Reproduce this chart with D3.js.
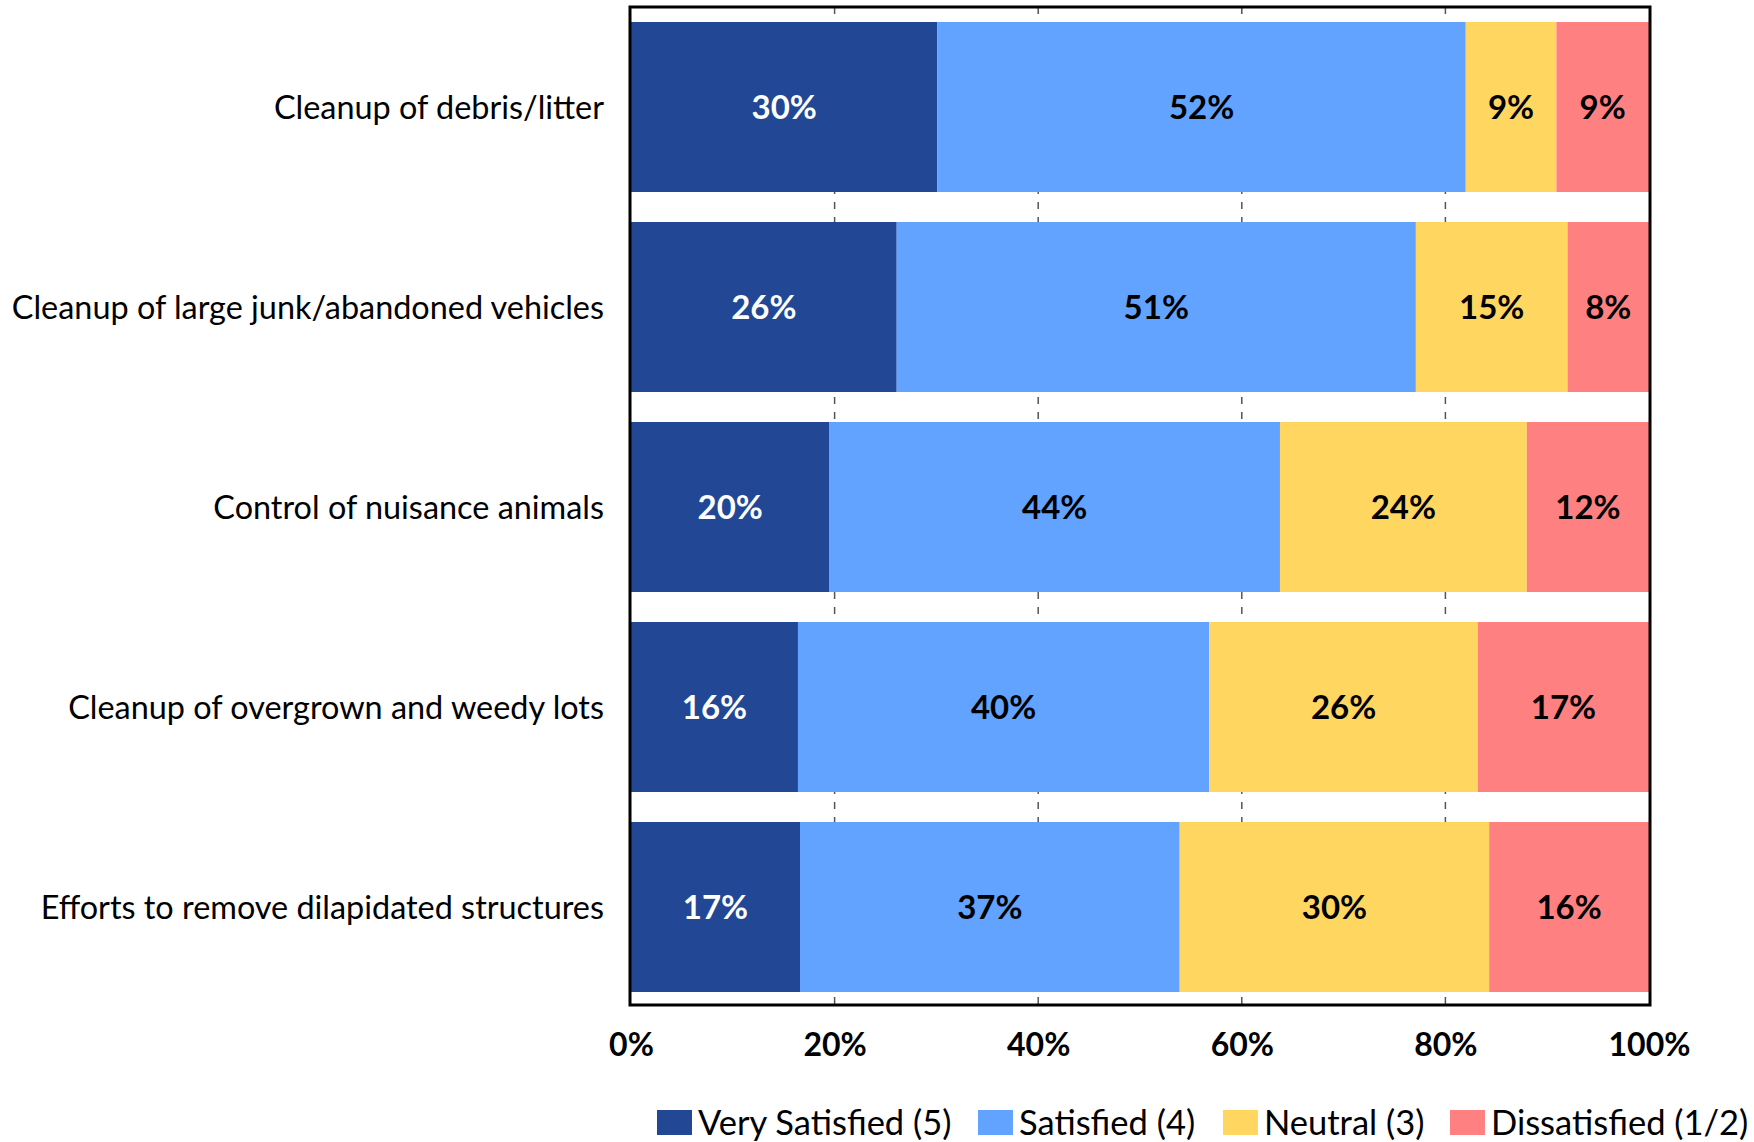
<!DOCTYPE html>
<html>
<head>
<meta charset="utf-8">
<script src="https://cdn.jsdelivr.net/npm/d3@7"></script>
<style>
  body { margin: 0; background: #fff; }
  text { font-family: Lato, "Open Sans", sans-serif; }
</style>
</head>
<body>
<div id="chart"></div>
<script>
// categories, top to bottom
var categories = [
  "Cleanup of debris/litter",
  "Cleanup of large junk/abandoned vehicles",
  "Control of nuisance animals",
  "Cleanup of overgrown and weedy lots",
  "Efforts to remove dilapidated structures"
];

// series values (percent)
var verySatisfied = [30.1, 26.1, 19.5, 16.4, 16.6];
var satisfied     = [51.9, 51.0, 44.25, 40.4, 37.3];
var neutral       = [8.9, 14.9, 24.25, 26.4, 30.4];
var dissatisfied  = [9.1, 8.0, 12.0, 16.8, 15.7];

// labels printed in the segments
var verySatisfiedLabels = ["30%", "26%", "20%", "16%", "17%"];
var satisfiedLabels     = ["52%", "51%", "44%", "40%", "37%"];
var neutralLabels       = ["9%", "15%", "24%", "26%", "30%"];
var dissatisfiedLabels  = ["9%", "8%", "12%", "17%", "16%"];

var seriesNames = ["Very Satisfied (5)", "Satisfied (4)", "Neutral (3)", "Dissatisfied (1/2)"];
var seriesColors = ["#214795", "#62A3FF", "#FFD760", "#FF8080"];
var labelColors = ["#fff", "#000", "#000", "#000"];

var xTicks = [0, 20, 40, 60, 80, 100];
var gridTicks = [20, 40, 60, 80];

var width = 1754, height = 1142;

var svg = d3.select("#chart").append("svg")
    .attr("width", width)
    .attr("height", height);

var x = d3.scaleLinear().domain([0, 100]).range([631, 1649]);
var y = d3.scaleBand().domain(categories).range([7, 1007])
    .paddingInner(0.15).paddingOuter(0.075);

// build rows for stacking
var series = [verySatisfied, satisfied, neutral, dissatisfied];
var labels = [verySatisfiedLabels, satisfiedLabels, neutralLabels, dissatisfiedLabels];
var rows = categories.map(function(c, i){
    var r = {cat: c};
    seriesNames.forEach(function(s, j){ r[s] = series[j][i]; });
    return r;
});
var stacked = d3.stack().keys(seriesNames)(rows);

// dashed gridlines (behind bars)
svg.append("g").selectAll("line")
    .data(gridTicks)
    .enter().append("line")
    .attr("x1", function(d){ return x(d); })
    .attr("x2", function(d){ return x(d); })
    .attr("y1", y.range()[0])
    .attr("y2", y.range()[1] - 2)
    .attr("stroke", "#555")
    .attr("stroke-width", 1.5)
    .attr("stroke-dasharray", "7,8");

// bars
var layers = svg.append("g").selectAll("g")
    .data(stacked)
    .enter().append("g")
    .attr("fill", function(d, i){ return seriesColors[i]; });

layers.selectAll("rect")
    .data(function(d){ return d; })
    .enter().append("rect")
    .attr("x", function(d){ return x(d[0]); })
    .attr("y", function(d){ return y(d.data.cat); })
    .attr("width", function(d){ return x(d[1]) - x(d[0]); })
    .attr("height", y.bandwidth());

// segment labels
stacked.forEach(function(layer, j){
    svg.append("g").selectAll("text")
        .data(layer)
        .enter().append("text")
        .attr("x", function(d){ return (x(d[0]) + x(d[1])) / 2; })
        .attr("y", function(d){ return y(d.data.cat) + y.bandwidth() / 2; })
        .attr("dy", "0.36em")
        .attr("text-anchor", "middle")
        .attr("font-size", 33)
        .attr("font-weight", "bold")
        .attr("fill", labelColors[j])
        .text(function(d, i){ return labels[j][i]; });
});

// frame
svg.append("rect")
    .attr("x", x(0) - 1)
    .attr("y", y.range()[0])
    .attr("width", x(100) - x(0) + 2)
    .attr("height", 998)
    .attr("fill", "none")
    .attr("stroke", "#000")
    .attr("stroke-width", 3);

// category labels
svg.append("g").selectAll("text")
    .data(categories)
    .enter().append("text")
    .attr("x", 604)
    .attr("y", function(d){ return y(d) + y.bandwidth() / 2; })
    .attr("dy", "0.36em")
    .attr("text-anchor", "end")
    .attr("font-size", 32.4)
    .attr("fill", "#000")
    .text(function(d){ return d; });

// x axis labels
var xAxis = d3.axisBottom(x)
    .tickValues(xTicks)
    .tickSize(0)
    .tickPadding(0)
    .tickFormat(function(d){ return d + "%"; });
var gx = svg.append("g")
    .attr("transform", "translate(0,1033)")
    .call(xAxis);
gx.select(".domain").remove();
gx.selectAll("text")
    .attr("dy", "0.72em")
    .attr("font-size", 32)
    .attr("font-weight", "bold")
    .attr("font-family", "Lato, sans-serif")
    .attr("fill", "#000");

// legend
var legendX = [657, 978, 1223, 1450];
var legend = svg.append("g").selectAll("g")
    .data(seriesNames)
    .enter().append("g")
    .attr("transform", function(d, i){ return "translate(" + legendX[i] + ",1110)"; });
legend.append("rect")
    .attr("width", 35)
    .attr("height", 25)
    .attr("fill", function(d, i){ return seriesColors[i]; });
legend.append("text")
    .attr("x", 41)
    .attr("y", 12.5)
    .attr("dy", "0.36em")
    .attr("font-size", 34.5)
    .attr("fill", "#000")
    .text(function(d){ return d; });
</script>
</body>
</html>
